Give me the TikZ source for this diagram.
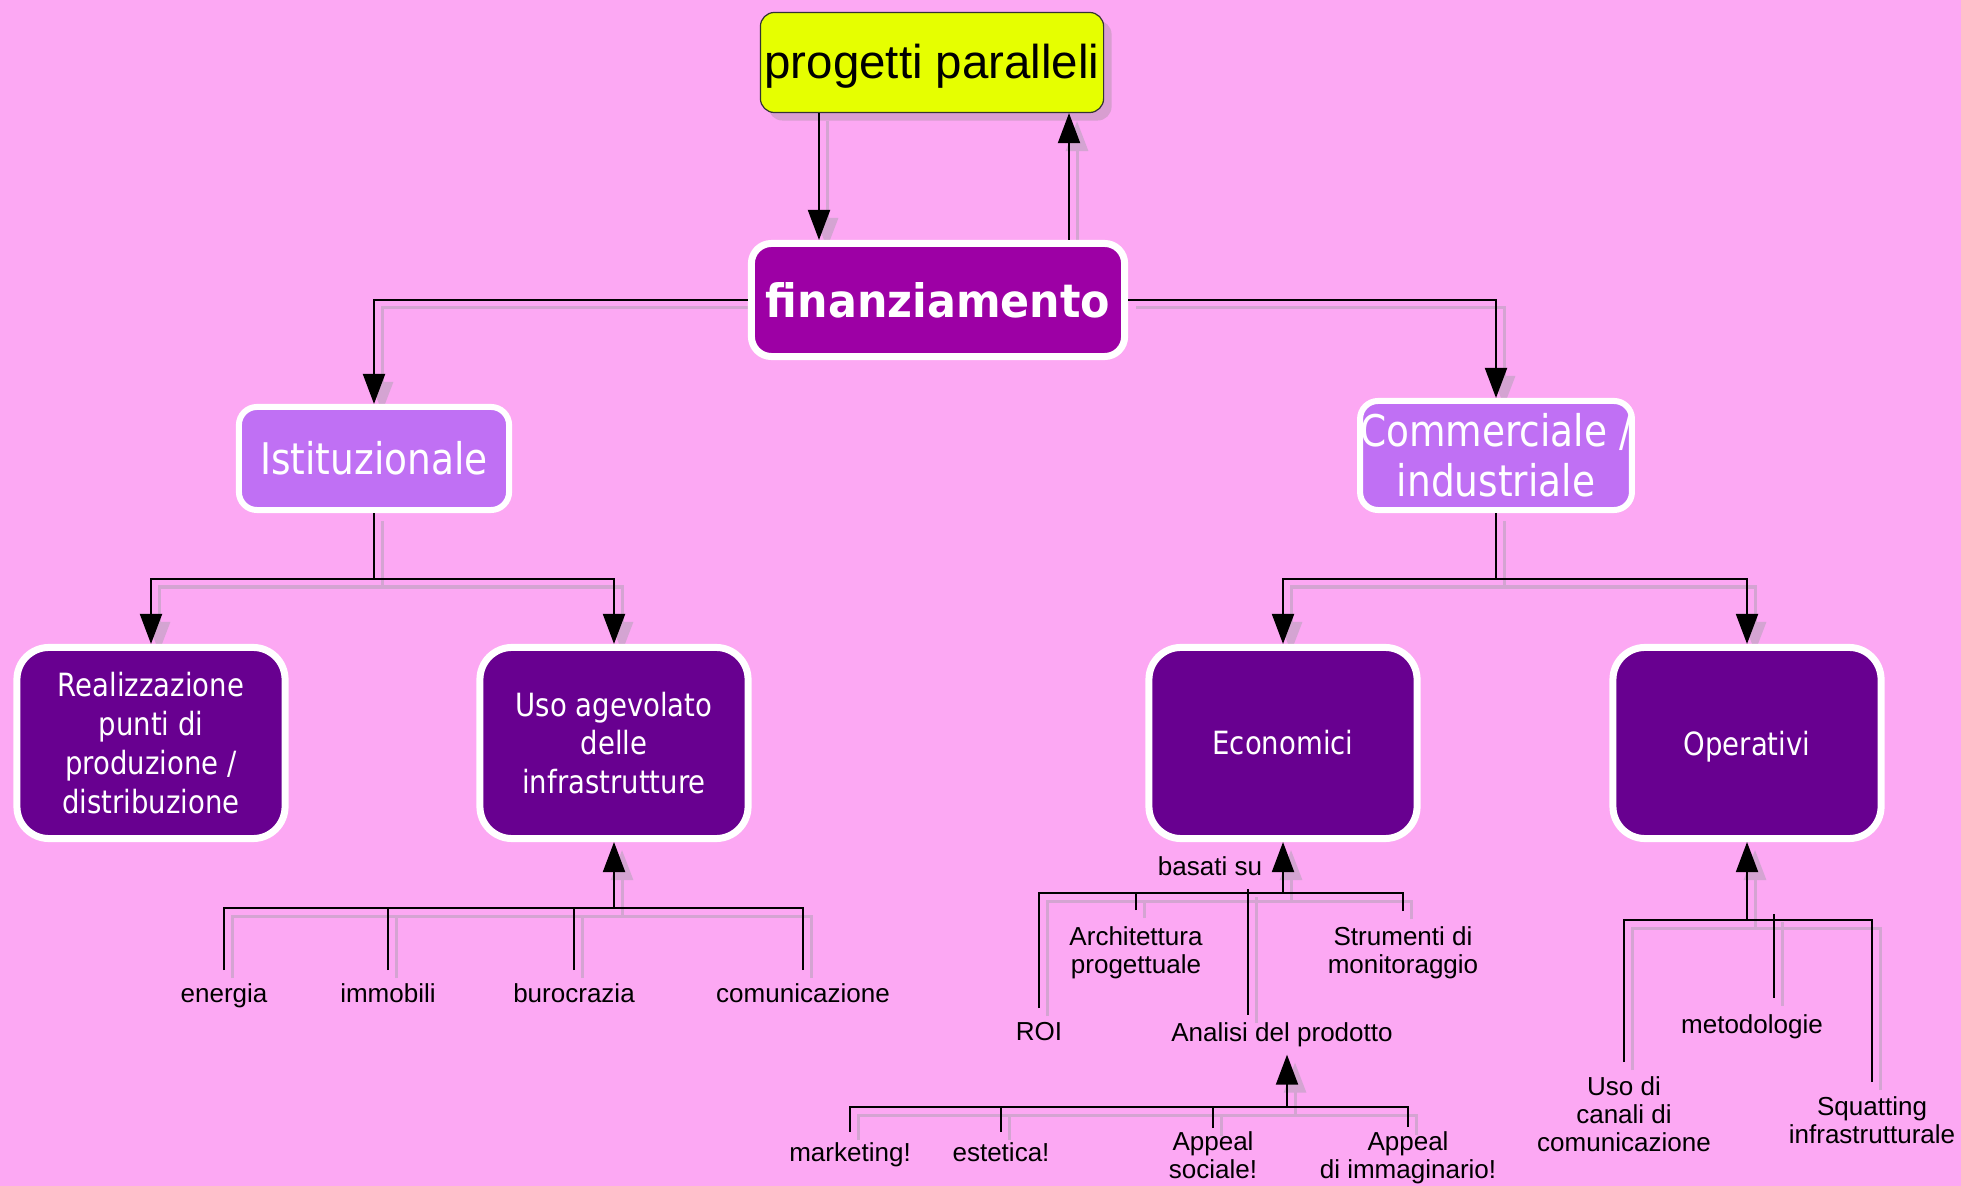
\documentclass[tikz,border=0pt]{standalone}
\usepackage{fontspec}
\setmainfont{Liberation Sans}
\newfontfamily\tah[FakeStretch=0.86]{DejaVu Sans}
\newfontfamily\tahb[FakeStretch=0.93]{DejaVu Sans Bold}
\usetikzlibrary{arrows.meta,shadows,calc}
\definecolor{bgc}{RGB}{252,168,243}
\definecolor{shc}{RGB}{212,164,210}
\definecolor{shn}{RGB}{216,158,208}
\definecolor{ylw}{RGB}{230,255,0}
\definecolor{finc}{RGB}{157,0,165}
\definecolor{lilc}{RGB}{192,112,244}
\definecolor{drkc}{RGB}{104,0,144}
\pgfdeclarelayer{bg}
\pgfdeclarelayer{shadow}
\pgfsetlayers{bg,shadow,main}
\newcommand\shconn[2]{%
  \begin{pgfonlayer}{shadow}\draw[#1,shc,line width=0.03cm,transform canvas={xshift=0.08cm,yshift=-0.08cm}] #2;\end{pgfonlayer}%
  \draw[#1] #2;}
\newcommand\lowertext[2]{\raisebox{-#1}[\height][\depth]{#2}}
\tikzset{
  cline/.style={draw=black,line width=0.02cm},
  carr/.style={cline,-{Triangle[length=0.3cm,width=0.22cm]}},
  ppbox/.style={draw=black!80,line width=0.012cm,fill=ylw,rounded corners=0.14cm,
    minimum width=3.43cm,minimum height=1.0cm,inner sep=0pt,
    font=\fontsize{13.5}{16}\selectfont,
    drop shadow={shadow xshift=0.08cm,shadow yshift=-0.08cm,fill=shn,opacity=1}},
  finbox/.style={draw=white,line width=0.07cm,fill=finc,rounded corners=0.2cm,
    minimum width=3.73cm,minimum height=1.13cm,inner sep=0pt,text=white,
    font=\tahb\fontsize{13.1}{15}\selectfont},
  lilbox/.style={draw=white,line width=0.06cm,fill=lilc,rounded corners=0.18cm,
    minimum width=2.70cm,minimum height=1.03cm,inner sep=0pt,text=white,align=center,
    font=\tah\fontsize{12.4}{14.2}\selectfont},
  drkbox/.style={draw=white,line width=0.07cm,fill=drkc,rounded corners=0.32cm,
    minimum width=2.68cm,minimum height=1.91cm,inner sep=0pt,text=white,align=center,
    font=\tah\fontsize{9.1}{11.04}\selectfont},
  lbl/.style={font=\fontsize{7.4}{7.97}\selectfont,align=center,inner xsep=0pt,anchor=north}
}
\begin{document}
\begin{tikzpicture}[x=0.01cm,y=-0.01cm]
\useasboundingbox (0,0) rectangle (1961,1186);
\begin{pgfonlayer}{bg}\fill[bgc] (0,0) rectangle (1961,1186);\end{pgfonlayer}

% main nodes
\node[ppbox] (pp) at (932,62.5) {\lowertext{0.04cm}{progetti paralleli}};
\node[finbox] (fin) at (938,300) {finanziamento};
\node[lilbox] (ist) at (374,458.5) {Istituzionale};
\node[lilbox,minimum height=1.09cm] (com) at (1496,455.5) {Commerciale /\\industriale};
\node[drkbox] (real) at (151,743) {Realizzazione\\punti di\\produzione /\\distribuzione};
\node[drkbox] (uso) at (614,743) {Uso agevolato\\delle\\infrastrutture};
\node[drkbox] (eco) at (1283,743) {Economici};
\node[drkbox] (ope) at (1747,743) {\lowertext{0.035cm}{Operativi}};

% labels
\node[lbl,inner ysep=0.13cm] (energia) at (224,970) {energia};
\node[lbl,inner ysep=0.13cm] (immobili) at (388,970) {immobili};
\node[lbl,inner ysep=0.13cm] (buro) at (574,970) {burocrazia};
\node[lbl,inner ysep=0.13cm] (comu) at (803,970) {comunicazione};
\node[font=\fontsize{7.4}{7.97}\selectfont] (basati) at (1210,866) {basati su};
\node[lbl,inner ysep=0.14cm] (roi) at (1039,1008) {ROI};
\node[lbl,inner ysep=0.16cm] (archi) at (1136,910) {Architettura\\progettuale};
\node[lbl,inner ysep=0.15cm] (strum) at (1403,911) {Strumenti di\\monitoraggio};
\node[lbl,inner ysep=0.07cm] (analisi) at (1282,1015) {Analisi del prodotto};
\node[lbl,inner ysep=0.10cm] (mkt) at (850,1132) {marketing!};
\node[lbl,inner ysep=0.10cm] (est) at (1001,1132) {estetica!};
\node[lbl,inner ysep=0.03cm] (soc) at (1213,1128) {Appeal\\sociale!};
\node[lbl,inner ysep=0.04cm] (immag) at (1408,1127) {Appeal\\di immaginario!};
\node[lbl,inner ysep=0.16cm] (metod) at (1752,998) {metodologie};
\node[lbl,inner ysep=0.14cm] (usodi) at (1624,1062) {Uso di\\canali di\\comunicazione};
\node[lbl,inner ysep=0.14cm] (squat) at (1872,1082) {Squatting\\infrastrutturale};

% junction coordinates
\coordinate (xa) at (819,0);
\coordinate (xb) at (1069,0);
\coordinate (ji) at (374,579);
\coordinate (jc) at (1496,579);
\coordinate (ju) at (614,908);
\coordinate (je) at (1283,893);
\coordinate (ja) at (1287,1107);
\coordinate (jo) at (1747,920);
\coordinate (ka) at (1248,889);
\coordinate (km) at (1774,914);

% top connectors
\shconn{carr}{(pp.south -| xa) -- (fin.north -| xa)}
\shconn{carr}{(fin.north -| xb) -- (pp.south -| xb)}
\shconn{carr}{(fin.west) -| (ist.north)}
\shconn{carr}{(fin.east) -| (com.north)}
\shconn{cline}{(ist.south) -- (ji)}
\shconn{carr}{(ji) -| (real.north)}
\shconn{carr}{(ji) -| (uso.north)}
\shconn{cline}{(com.south) -- (jc)}
\shconn{carr}{(jc) -| (eco.north)}
\shconn{carr}{(jc) -| (ope.north)}

% uso agevolato tree
\shconn{cline}{(energia.north) |- (ju)}
\shconn{cline}{(comu.north) |- (ju)}
\shconn{cline}{(immobili.north) -- (immobili.north |- ju)}
\shconn{cline}{(buro.north) -- (buro.north |- ju)}
\shconn{carr}{(ju) -- (uso.south)}

% economici tree
\shconn{cline}{(roi.north) |- (je)}
\shconn{cline}{(strum.north) |- (je)}
\shconn{cline}{(archi.north) -- (archi.north |- je)}
\shconn{cline}{(ka) -- (ka |- analisi.north)}
\shconn{carr}{(je) -- (eco.south)}

% analisi tree
\shconn{cline}{(mkt.north) |- (ja)}
\shconn{cline}{(immag.north) |- (ja)}
\shconn{cline}{(est.north) -- (est.north |- ja)}
\shconn{cline}{(soc.north) -- (soc.north |- ja)}
\shconn{carr}{(ja) -- (ja |- analisi.south)}

% operativi tree
\shconn{cline}{(usodi.north) |- (jo)}
\shconn{cline}{(squat.north) |- (jo)}
\shconn{cline}{(km) -- (km |- metod.north)}
\shconn{carr}{(jo) -- (ope.south)}
\end{tikzpicture}
\end{document}
